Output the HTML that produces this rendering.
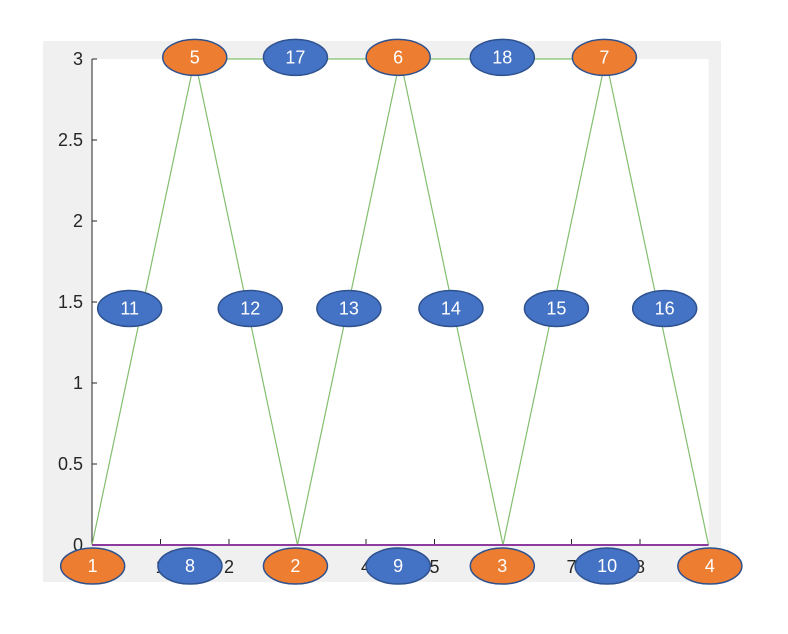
<!DOCTYPE html>
<html><head><meta charset="utf-8"><style>
body{margin:0;background:#fff;}
svg{display:block;font-family:"Liberation Sans",sans-serif;}
</style></head><body>
<svg id="chart" width="788" height="634"></svg>
<script>
const yTicks=[0,0.5,1,1.5,2,2.5,3];
const yTickLabels=["0","0.5","1","1.5","2","2.5","3"];
const xTicks=[1,2,4,5,7,8];
const xTickLabels=["1","2","4","5","7","8"];
const greenPathX=[0,1.5,3,4.5,6,7.5,9];
const greenPathY=[0,3,0,3,0,3,0];
const topLineX=[1.5,7.5];
const topLineY=[3,3];
const baseLineX=[0,9];
const baseLineY=[0,0];
const nodeLabels=["1","8","2","9","3","10","4","11","12","13","14","15","16","5","17","6","18","7"];
const nodeX=[0.01,1.43,2.97,4.47,5.99,7.52,9.02,0.55,2.31,3.75,5.24,6.78,8.36,1.5,2.97,4.47,5.99,7.48];
const nodeY=[-0.13,-0.13,-0.13,-0.13,-0.13,-0.13,-0.13,1.46,1.46,1.46,1.46,1.46,1.46,3.01,3.01,3.01,3.01,3.01];
const nodeType=["o","b","o","b","o","b","o","b","b","b","b","b","b","o","b","o","b","o"];

const NS="http://www.w3.org/2000/svg";
const svg=document.getElementById('chart');
const X0=92,X1=708.5,Y0=545,Y1=59;
const sx=v=>X0+(X1-X0)*v/9;
const sy=v=>Y0-(Y0-Y1)*v/3;
function mk(tag,attrs,parent){const e=document.createElementNS(NS,tag);for(const k in attrs)e.setAttribute(k,attrs[k]);(parent||svg).appendChild(e);return e;}

let e=mk('rect',{x:43,y:41,width:678,height:541,fill:'#f0f0f0'});


e=mk('rect',{x:X0,y:Y1,width:X1-X0,height:Y0-Y1,fill:'#ffffff'});



yTicks.forEach((t,i)=>{
  const y=sy(t);
  let l=mk('line',{x1:X0,x2:X0+5,y1:y,y2:y,stroke:'#262626','stroke-width':1});
  
  
  let tx=mk('text',{x:X0-9,y:y+6,'text-anchor':'end','font-size':18,fill:'#262626'});
  tx.textContent=yTickLabels[i];
  
  
});
xTicks.forEach((t,i)=>{
  const x=sx(t);
  let l=mk('line',{x1:x,x2:x,y1:Y0,y2:Y0-6,stroke:'#262626','stroke-width':1});
  
  
  let tx=mk('text',{x:x,y:Y0+28,'text-anchor':'middle','font-size':18,fill:'#262626'});
  tx.textContent=xTickLabels[i];
  
  
});
e=mk('line',{x1:X0,x2:X0,y1:Y1,y2:Y0,stroke:'#262626','stroke-width':1});



e=mk('polyline',{points:greenPathX.map((v,i)=>sx(v)+','+sy(greenPathY[i])).join(' '),fill:'none',stroke:'#82bf6e','stroke-width':1.2});


e=mk('polyline',{points:topLineX.map((v,i)=>sx(v)+','+sy(topLineY[i])).join(' '),fill:'none',stroke:'#82bf6e','stroke-width':1.2});


e=mk('polyline',{points:baseLineX.map((v,i)=>sx(v)+','+sy(baseLineY[i])).join(' '),fill:'none',stroke:'#8e3ba0','stroke-width':2});



nodeLabels.forEach((lab,i)=>{
  const g=mk('g',{});
  
  
  const cx=sx(nodeX[i]),cy=sy(nodeY[i]);
  mk('ellipse',{cx:cx,cy:cy,rx:32,ry:18,fill:nodeType[i]==='o'?'#ed7d31':'#4472c4',stroke:'#2f528f','stroke-width':1.5},g);
  const t=mk('text',{x:cx,y:cy+6,'text-anchor':'middle','font-size':18,fill:'#ffffff'},g);
  t.textContent=lab;
});
</script>
</body></html>
